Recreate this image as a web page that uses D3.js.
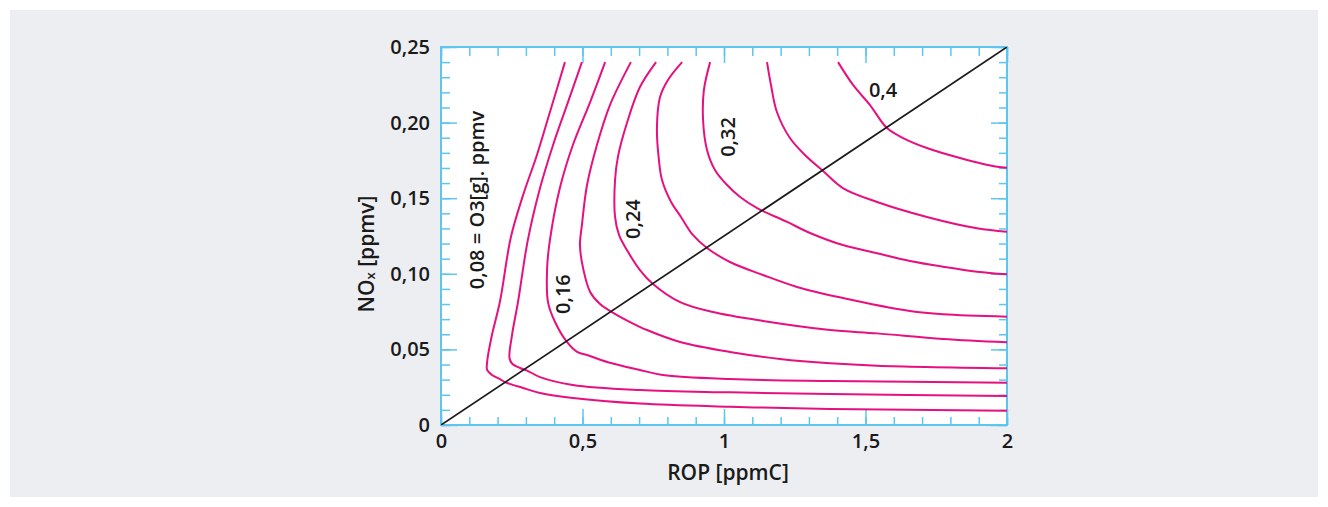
<!DOCTYPE html>
<html>
<head>
<meta charset="utf-8">
<title>Ozone isopleths</title>
<script src="https://d3js.org/d3.v7.min.js"></script>
<style>
  body { margin: 0; background: #ffffff; }
  svg text { font-family: 'Open Sans', 'Noto Sans', sans-serif; font-weight: 600; fill: #1a1a1a; }
</style>
</head>
<body>
<div id="chart"></div>
<script>
// isopleth levels (ppmv ozone)
const levels = [0.08, 0.12, 0.16, 0.20, 0.24, 0.28, 0.32, 0.36, 0.40];

// each curve: [ROP ppmC, NOx ppmv]
const iso008 = [[0.438,0.24],[0.385,0.207],[0.339,0.1786],[0.290,0.152],[0.247,0.1243],[0.208,0.0813],[0.180,0.0595],[0.163,0.0417],[0.163,0.0364],[0.180,0.0331],[0.208,0.0304],[0.226,0.0284],[0.290,0.0245],[0.350,0.0212],[0.466,0.0179],[0.703,0.0142],[1.021,0.0121],[1.375,0.0106],[2.0,0.0095]];
const iso012 = [[0.498,0.24],[0.445,0.2116],[0.396,0.1852],[0.350,0.1567],[0.307,0.1224],[0.272,0.0813],[0.251,0.0595],[0.242,0.0443],[0.251,0.0407],[0.279,0.0377],[0.304,0.0360],[0.350,0.0317],[0.466,0.0265],[0.703,0.0231],[1.021,0.0216],[1.375,0.0205],[2.0,0.0192]];
const iso016 = [[0.580,0.24],[0.527,0.2136],[0.466,0.1852],[0.420,0.1567],[0.385,0.1224],[0.375,0.1038],[0.378,0.0813],[0.403,0.0681],[0.445,0.0549],[0.481,0.0483],[0.516,0.0463],[0.587,0.0417],[0.703,0.0364],[0.784,0.0331],[1.021,0.0304],[1.375,0.0291],[2.0,0.0280]];
const iso020 = [[0.671,0.24],[0.597,0.2116],[0.551,0.1852],[0.516,0.1587],[0.498,0.1323],[0.491,0.1190],[0.502,0.1038],[0.527,0.0880],[0.562,0.0800],[0.604,0.0747],[0.668,0.0681],[0.728,0.0628],[0.845,0.0549],[1.021,0.0483],[1.198,0.0437],[1.375,0.0408],[1.541,0.0392],[2.0,0.0375]];
const iso024 = [[0.760,0.24],[0.703,0.2235],[0.657,0.1997],[0.625,0.1772],[0.615,0.1620],[0.615,0.1376],[0.629,0.1257],[0.657,0.1157],[0.703,0.1025],[0.749,0.0933],[0.845,0.0813],[0.961,0.0747],[1.138,0.0688],[1.375,0.0628],[1.541,0.0606],[1.774,0.0569],[2.0,0.0547]];
const iso028 = [[0.852,0.24],[0.802,0.2282],[0.774,0.2169],[0.763,0.1964],[0.770,0.1753],[0.781,0.1620],[0.813,0.1475],[0.848,0.1376],[0.890,0.1257],[0.940,0.1171],[1.021,0.1078],[1.138,0.0992],[1.258,0.0913],[1.420,0.0840],[1.657,0.0754],[1.774,0.0732],[2.0,0.0716]];
const iso032 = [[0.951,0.24],[0.929,0.2216],[0.926,0.2017],[0.940,0.1819],[0.968,0.1687],[1.011,0.1587],[1.057,0.1508],[1.117,0.1435],[1.223,0.1343],[1.304,0.1270],[1.420,0.1190],[1.541,0.1136],[1.657,0.1085],[1.774,0.1047],[1.894,0.1014],[2.0,0.0997]];
const iso036 = [[1.152,0.24],[1.166,0.2249],[1.187,0.2070],[1.233,0.1898],[1.286,0.1786],[1.350,0.1680],[1.420,0.1567],[1.541,0.1475],[1.717,0.1376],[1.894,0.1301],[2.0,0.1278]];
const iso040 = [[1.403,0.24],[1.456,0.2249],[1.516,0.2116],[1.576,0.1964],[1.633,0.1898],[1.717,0.1832],[1.834,0.1766],[1.965,0.1708],[2.0,0.1702]];
const isopleths = [iso008, iso012, iso016, iso020, iso024, iso028, iso032, iso036, iso040];

// reference line ROP/NOx = 8
const ratioLine = [[0, 0], [2, 0.25]];

// ticks
const xMajor = [0, 0.5, 1, 1.5, 2];
const xTickLabels = ["0", "0,5", "1", "1,5", "2"];
const xMinor = d3.range(0, 21).map(i => i / 10);
const yMajor = [0, 0.05, 0.10, 0.15, 0.20, 0.25];
const yTickLabels = ["0", "0,05", "0,10", "0,15", "0,20", "0,25"];
const yMinor = d3.range(0, 26).map(i => i / 100);

const W = 1328, H = 507;
const mLeft = 441, mRight = 1007, mTop = 47, mBottom = 425;
const blue = "#5cc6ef";
const pink = "#e6107f";

const svg = d3.select("#chart").append("svg")
    .attr("width", W)
    .attr("height", H);

// grey panel
svg.append("rect")
    .attr("x", 10).attr("y", 10)
    .attr("width", W - 20).attr("height", H - 20)
    .attr("fill", "#edeef2");

const x = d3.scaleLinear().domain([0, 2]).range([mLeft, mRight]);
const y = d3.scaleLinear().domain([0, 0.25]).range([mBottom, mTop]);

svg.append("rect")
    .attr("x", mLeft).attr("y", mTop)
    .attr("width", mRight - mLeft).attr("height", mBottom - mTop)
    .attr("fill", "#ffffff");

svg.append("clipPath").attr("id", "plot")
    .append("rect")
    .attr("x", mLeft).attr("y", mTop)
    .attr("width", mRight - mLeft).attr("height", mBottom - mTop);

// ticks on all four sides, pointing inward
function ticks(axis, transform) {
    const g = svg.append("g").attr("transform", transform).call(axis);
    g.select(".domain").remove();
    g.selectAll(".tick line").attr("stroke", blue).attr("stroke-width", 1.5);
    return g;
}

ticks(d3.axisBottom(x).tickValues(xMinor).tickSize(-8).tickFormat(""), `translate(0,${mBottom})`);
ticks(d3.axisTop(x).tickValues(xMinor).tickSize(-9).tickFormat(""), `translate(0,${mTop})`);
ticks(d3.axisLeft(y).tickValues(yMinor).tickSize(-9).tickFormat(""), `translate(${mLeft},0)`);
ticks(d3.axisRight(y).tickValues(yMinor).tickSize(-8).tickFormat(""), `translate(${mRight},0)`);

ticks(d3.axisTop(x).tickValues(xMajor).tickSize(-16).tickFormat(""), `translate(0,${mTop})`);
ticks(d3.axisRight(y).tickValues(yMajor).tickSize(-16).tickFormat(""), `translate(${mRight},0)`);

ticks(d3.axisBottom(x).tickValues(xMajor).tickSize(-16).tickPadding(9)
    .tickFormat((d, i) => xTickLabels[i]), `translate(0,${mBottom})`);
ticks(d3.axisLeft(y).tickValues(yMajor).tickSize(-16).tickPadding(11)
    .tickFormat((d, i) => yTickLabels[i]), `translate(${mLeft},0)`);

svg.selectAll(".tick text")
    .attr("font-size", 20)
    .style("font-family", "'Open Sans', sans-serif")
    .style("font-weight", 600)
    .attr("fill", "#1a1a1a");

// frame
svg.append("rect")
    .attr("x", mLeft).attr("y", mTop)
    .attr("width", mRight - mLeft).attr("height", mBottom - mTop)
    .attr("fill", "none")
    .attr("stroke", blue)
    .attr("stroke-width", 2);

const plot = svg.append("g").attr("clip-path", "url(#plot)");

const line = d3.line()
    .x(d => x(d[0]))
    .y(d => y(d[1]))
    .curve(d3.curveCatmullRom.alpha(0.5));

plot.selectAll(".iso")
    .data(isopleths)
    .enter()
    .append("path")
    .attr("class", "iso")
    .attr("d", line)
    .attr("fill", "none")
    .attr("stroke", pink)
    .attr("stroke-width", 2);

plot.append("path")
    .attr("d", d3.line().x(d => x(d[0])).y(d => y(d[1]))(ratioLine))
    .attr("fill", "none")
    .attr("stroke", "#1a1a1a")
    .attr("stroke-width", 1.7);

// curve labels
const curveLabels = [
    { text: "0,08 = O3[g]. ppmv", at: [0.124, 0.1488], rot: -90 },
    { text: "0,16", at: [0.429, 0.0866], rot: -90 },
    { text: "0,24", at: [0.678, 0.1362], rot: -90 },
    { text: "0,32", at: [1.014, 0.1905], rot: -90 },
    { text: "0,4", at: [1.562, 0.2216], rot: 0 }
];

svg.selectAll(".lbl")
    .data(curveLabels)
    .enter()
    .append("text")
    .attr("class", "lbl")
    .attr("transform", d => `translate(${x(d.at[0])},${y(d.at[1])}) rotate(${d.rot})`)
    .attr("text-anchor", "middle")
    .attr("dominant-baseline", "central")
    .attr("font-size", 20)
    .text(d => d.text);

// axis titles
svg.append("text")
    .attr("x", 728)
    .attr("y", 472)
    .attr("text-anchor", "middle")
    .attr("dominant-baseline", "central")
    .attr("font-size", 21)
    .text("ROP [ppmC]");

const yTitle = svg.append("text")
    .attr("transform", "translate(366,254) rotate(-90)")
    .attr("text-anchor", "middle")
    .attr("dominant-baseline", "central")
    .attr("font-size", 21);
yTitle.append("tspan").text("NO");
yTitle.append("tspan").attr("font-size", 13).attr("dy", 4).text("x");
yTitle.append("tspan").attr("dy", -4).text(" [ppmv]");
</script>
</body>
</html>
